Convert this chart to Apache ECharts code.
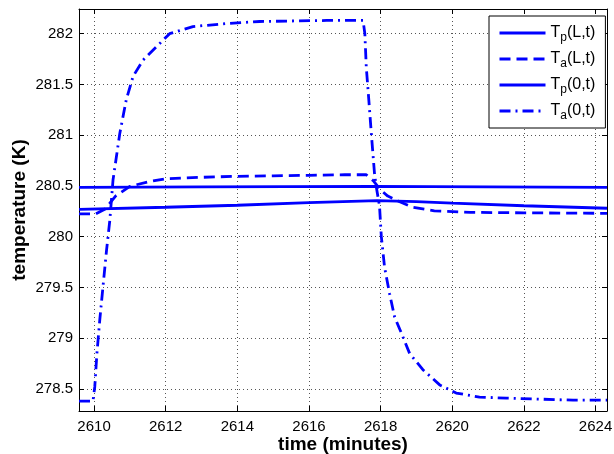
<!DOCTYPE html>
<html>
<head>
<meta charset="utf-8">
<script src="https://cdn.jsdelivr.net/npm/echarts@6/dist/echarts.min.js"></script>
<style>
  html, body { margin: 0; padding: 0; background: #fff; }
  #chart { width: 614px; height: 454px; }
</style>
</head>
<body>
<div id="chart"></div>
<script>
// axis ticks
const xTicks = [2610, 2612, 2614, 2616, 2618, 2620, 2622, 2624];
const yTicks = [278.5, 279, 279.5, 280, 280.5, 281, 281.5, 282];

// Tp(L,t)
const tpLTime = [2609.58, 2613, 2617.8, 2621, 2624.32];
const tpLTemp = [280.485, 280.49, 280.495, 280.49, 280.485];

// Ta(L,t)
const taLTime = [2609.58, 2610.05, 2610.3, 2610.6, 2611.0, 2611.5, 2612, 2613, 2614, 2615, 2616, 2617, 2617.6,
  2617.8, 2618.0, 2618.2, 2618.5, 2618.9, 2619.5, 2620.5, 2622, 2624.32];
const taLTemp = [280.225, 280.225, 280.27, 280.4, 280.495, 280.54, 280.57, 280.585, 280.595, 280.6, 280.605, 280.61, 280.61,
  280.55, 280.46, 280.4, 280.35, 280.29, 280.255, 280.24, 280.235, 280.23];

// Tp(0,t)
const tp0Time = [2609.58, 2612, 2614, 2616, 2617.9, 2619, 2620, 2622, 2624.32];
const tp0Temp = [280.27, 280.29, 280.31, 280.335, 280.355, 280.345, 280.33, 280.305, 280.28];

// Ta(0,t)
const ta0Time = [2609.58, 2609.97, 2610.02, 2610.08, 2610.16, 2610.25, 2610.35, 2610.44, 2610.53, 2610.72, 2610.9,
  2611.09, 2611.37, 2611.74, 2612.11, 2612.76, 2613.7, 2614.62, 2616.49, 2617.51,
  2617.56, 2617.6, 2617.67, 2617.74, 2617.83, 2617.88, 2617.97, 2618.02, 2618.11, 2618.25, 2618.39,
  2618.58, 2618.81, 2619.18, 2619.65, 2620.11, 2620.76, 2621.51, 2622.44, 2623.37, 2624.32];
const ta0Temp = [278.38, 278.38, 278.52, 278.85, 279.18, 279.51, 279.87, 280.16, 280.56, 281.02, 281.35,
  281.58, 281.74, 281.87, 282.0, 282.07, 282.1, 282.12, 282.13, 282.13,
  282.0, 281.67, 281.35, 281.02, 280.62, 280.49, 280.3, 280.0, 279.7, 279.44, 279.21,
  279.05, 278.85, 278.69, 278.54, 278.46, 278.42, 278.41, 278.4, 278.39, 278.39];

const zip = (xs, ys) => xs.map((x, i) => [x, ys[i]]);

const blue = '#0000ff';
const font = 'Liberation Sans, Arial, Helvetica, sans-serif';

function line(name, data, type) {
  return {
    name: name,
    type: 'line',
    data: data,
    symbol: 'none',
    smooth: false,
    animation: false,
    lineStyle: { color: blue, width: 2.8, type: type, cap: 'butt' },
    itemStyle: { color: blue }
  };
}

const subNames = {
  'Tp(L,t)': ['p', '(L,t)'],
  'Ta(L,t)': ['a', '(L,t)'],
  'Tp(0,t)': ['p', '(0,t)'],
  'Ta(0,t)': ['a', '(0,t)']
};

function valueAxis(pos, min, max, ticks, isY, showLabel) {
  return {
    type: 'value',
    position: pos,
    min: min,
    max: max,
    nameMoveOverlap: false,
    axisLine: { show: true, onZero: false, lineStyle: { color: '#000', width: 1 } },
    axisTick: { show: true, inside: true, length: 5, customValues: ticks, lineStyle: { color: '#000' } },
    axisLabel: {
      show: showLabel,
      customValues: ticks,
      formatter: v => String(v),
      color: '#000',
      fontFamily: font,
      fontSize: 15,
      margin: isY ? 6 : 8
    },
    splitLine: showLabel ? {
      show: true,
      lineStyle: { color: '#555', width: 1, type: [1, 3] }
    } : { show: false }
  };
}

const chart = echarts.init(document.getElementById('chart'));
const xMain = valueAxis('bottom', 2609.58, 2624.32, xTicks, false, true);
xMain.name = 'time (minutes)';
xMain.nameLocation = 'middle';
xMain.nameGap = 24;
xMain.nameTextStyle = { fontFamily: font, fontSize: 19, fontWeight: 'bold', color: '#000' };
const yMain = valueAxis('left', 278.283, 282.243, yTicks, true, true);
yMain.name = 'temperature (K)';
yMain.nameLocation = 'middle';
yMain.nameGap = 50;
yMain.nameTextStyle = { fontFamily: font, fontSize: 19, fontWeight: 'bold', color: '#000' };

chart.setOption({
  backgroundColor: '#fff',
  animation: false,
  grid: { left: 79, right: 7, top: 9, bottom: 43, containLabel: false, outerBoundsMode: 'none' },
  xAxis: [xMain, valueAxis('top', 2609.58, 2624.32, xTicks, false, false)],
  yAxis: [yMain, valueAxis('right', 278.283, 282.243, yTicks, true, false)],
  legend: {
    orient: 'vertical',
    left: 489,
    top: 16,
    padding: [6, 10, 6, 9],
    itemGap: 4,
    itemWidth: 46,
    itemHeight: 14,
    backgroundColor: '#fff',
    borderColor: '#000',
    borderWidth: 1,
    borderRadius: 0,
    itemStyle: { opacity: 0, borderWidth: 0 },
    lineStyle: { width: 3 },
    data: ['Tp(L,t)', 'Ta(L,t)', 'Tp(0,t)', 'Ta(0,t)'],
    formatter: name => '{m|T}{s|' + subNames[name][0] + '}{m|' + subNames[name][1] + '}',
    textStyle: {
      color: '#000',
      fontFamily: font,
      fontSize: 16,
      rich: {
        m: { fontFamily: font, fontSize: 16, color: '#000', lineHeight: 19 },
        s: { fontFamily: font, fontSize: 12, color: '#000', padding: [10, 0, 0, 0], lineHeight: 19 }
      }
    }
  },
  series: [
    line('Tp(L,t)', zip(tpLTime, tpLTemp), 'solid'),
    line('Ta(L,t)', zip(taLTime, taLTemp), [11, 6]),
    line('Tp(0,t)', zip(tp0Time, tp0Temp), 'solid'),
    line('Ta(0,t)', zip(ta0Time, ta0Temp), [11, 5, 2, 5])
  ]
});
</script>
</body>
</html>
